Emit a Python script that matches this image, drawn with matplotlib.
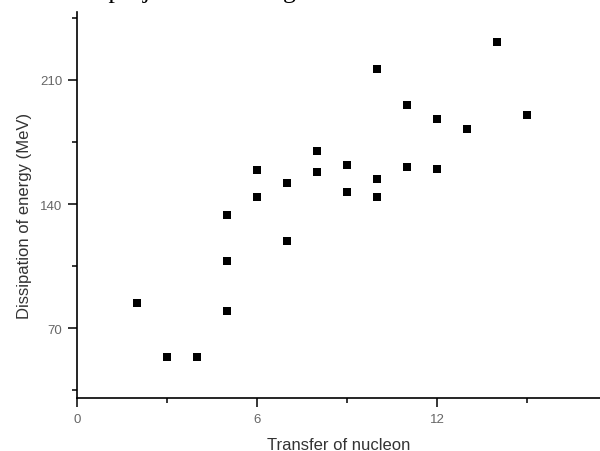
import matplotlib
matplotlib.use("Agg")
import matplotlib.pyplot as plt
from matplotlib.ticker import MultipleLocator

# transfer of nucleon vs dissipation of energy (MeV)
nucleon = [2, 3, 4, 5, 5, 5, 6, 6, 7, 7, 8, 8, 9, 9, 10, 10, 10, 11, 11, 12, 12, 13, 14, 15]
energy = [84, 54, 54, 80, 108, 134, 144, 159, 119, 152, 158, 170, 147, 162, 144, 154, 216,
          161, 196, 160, 188, 182, 231, 190]

x_ticks = [0, 6, 12]
y_ticks = [70, 140, 210]

plt.rcParams['font.family'] = ['Liberation Sans', 'DejaVu Sans']

fig = plt.figure(figsize=(6.0, 4.52), dpi=100)
W, H = 600.0, 452.0
ax = fig.add_axes([77 / W, 1 - 399.3 / H, (600 - 77) / W, (399.3 - 12.7) / H])

ax.plot(nucleon, energy, 's', color='black', markersize=6, markeredgewidth=0)

ax.set_xlim(0, 17.43)
ax.set_ylim(30.6, 248.3)
ax.set_xticks(x_ticks)
ax.set_yticks(y_ticks)
ax.xaxis.set_minor_locator(MultipleLocator(3))
ax.yaxis.set_minor_locator(MultipleLocator(35))

for s in ['top', 'right']:
    ax.spines[s].set_visible(False)
for s in ['left', 'bottom']:
    ax.spines[s].set_linewidth(1.2)

ax.tick_params(which='major', direction='out', length=6.5, width=1.1,
               labelsize=9.5, labelcolor='#666666', pad=4)
ax.tick_params(which='minor', direction='out', length=3.5, width=1.1)

ax.set_xlabel('Transfer of nucleon', fontsize=12, color='#333333')
ax.set_ylabel('Dissipation of energy (MeV)', fontsize=12, color='#333333')
ax.xaxis.set_label_coords(0.5, -0.1)
ax.yaxis.set_label_coords(-0.086, 0.474)

# clipped caption line from the source page
fig.text(-22 / W, 1.0 + 2.5 / H, 'between the projectile and target.', family='Liberation Serif',
         fontsize=18.5, va='baseline', ha='left', color='black')

fig.savefig('out.png', dpi=100)
